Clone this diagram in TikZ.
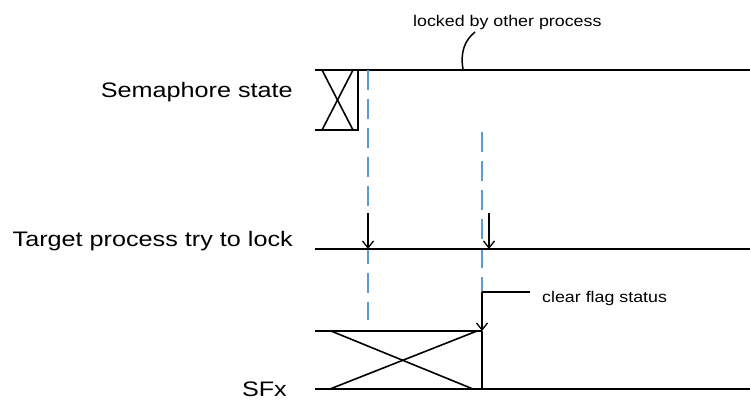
\documentclass[tikz,border=0pt]{standalone}
\usepackage{fontspec}
\setmainfont{Liberation Sans}
\usetikzlibrary{arrows.meta}
\definecolor{dashblue}{RGB}{91,155,213}
\newcommand{\biglbl}[1]{\fontsize{21}{24}\selectfont\scalebox{1.2}[1]{#1}}
\newcommand{\smalllbl}[1]{\fontsize{15.5}{18}\selectfont\scalebox{1.15}[1]{#1}}
\tikzset{
  sig/.style={line width=2pt, black},
  xline/.style={line width=1.6pt, black},
  guide/.style={line width=2pt, dashblue, dash pattern=on 20pt off 9pt},
  tick/.style={line width=1.5pt, black, -{Straight Barb[length=7pt,width=11pt,line width=1.3pt]}},
  leader/.style={line width=1.5pt, black},
  lbl/.style={inner sep=0pt, anchor=base east},
}
\begin{document}
\begin{tikzpicture}[x=1pt,y=-1pt]
\useasboundingbox (0,0) rectangle (750,401);
% labels
\node[lbl] (lsem) at (293,98) {\biglbl{Semaphore state}};
\node[lbl] (ltgt) at (293,246) {\biglbl{Target process try to lock}};
\node[lbl] (lsfx) at (287,396) {\biglbl{SFx}};
\node[inner sep=0pt, anchor=base west] (llock) at (413,27) {\smalllbl{locked by other process}};
\node[inner sep=0pt, anchor=base west] (lclr) at (542,302) {\smalllbl{clear flag status}};
% semaphore coordinates
\coordinate (s1) at (315,70);
\coordinate (s2) at (358,70);
\coordinate (s3) at (750,70);
\coordinate (s4) at (315,130);
\coordinate (s5) at (358,130);
\coordinate (sx1) at (322,70);
\coordinate (sx2) at (353,130);
\coordinate (sx3) at (353,70);
\coordinate (sx4) at (322,130);
\draw[sig] (s1) -- (s3);
\draw[sig] (s4) -- (s5) -- (s2);
\draw[xline] (sx1) -- (sx2);
\draw[xline] (sx3) -- (sx4);
% leader to locked text
\coordinate (c1) at (463,69);
\coordinate (c2) at (475,32);
\draw[leader] (c1) .. controls (460,52) and (465,40) .. (c2);
% target line
\coordinate (t1) at (315,249);
\coordinate (t2) at (750,249);
% blue guides
\coordinate (g1a) at (368,70);
\coordinate (g1b) at (368,320);
\coordinate (g2a) at (482,132);
\coordinate (g2b) at (482,292);
\draw[guide] (g1a) -- (g1b);
\draw[guide] (g2a) -- (g2b);
\draw[sig] (t1) -- (t2);
% arrows onto target line
\coordinate (a1s) at (368,213);
\coordinate (a1e) at (368,249);
\coordinate (a2s) at (489,213);
\coordinate (a2e) at (489,249);
\draw[tick] (a1s) -- (a1e);
\draw[tick] (a2s) -- (a2e);
% SFx
\coordinate (f1) at (315,331);
\coordinate (f2) at (482,331);
\coordinate (f3) at (315,389);
\coordinate (f4) at (750,389);
\coordinate (f5) at (482,389);
\coordinate (fx1) at (331,331);
\coordinate (fx2) at (473,389);
\coordinate (fx3) at (477,331);
\coordinate (fx4) at (330,389);
\draw[sig] (f1) -- (f2);
\draw[sig] (f3) -- (f4);
\draw[xline] (fx1) -- (fx2);
\draw[xline] (fx3) -- (fx4);
\draw[sig] (f2) -- (f5);
% clear flag leader
\coordinate (cl1) at (530,292);
\draw[leader] (cl1) -- (g2b);
\draw[tick] (g2b) -- (f2);
\end{tikzpicture}
\end{document}
